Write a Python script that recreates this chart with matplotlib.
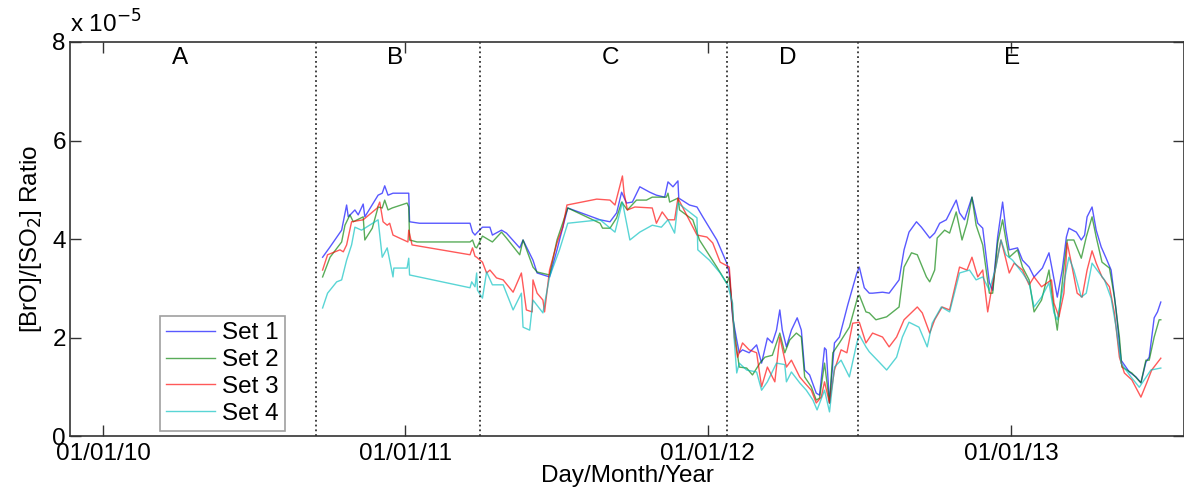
import matplotlib
matplotlib.use('Agg')
import matplotlib.pyplot as plt
import matplotlib.dates as mdates
import pandas as pd

plt.rcParams['font.family'] = ['Liberation Sans', 'DejaVu Sans']

# days since 01/01/2010, ratio in units of 1e-5
set1_days = [265, 274, 288, 294, 296, 304, 308, 314, 316, 332, 337, 340, 344, 350, 367, 369, 370, 382,
             443, 446, 449, 451, 458, 467, 470, 481, 487, 503, 507, 519, 524, 539, 548, 555, 561,
             600, 612, 620, 626, 632, 639, 648, 660, 668, 678, 682, 688, 694, 695, 708, 717, 724, 741,
             753, 756, 760, 765, 768, 772, 780, 789, 795, 802, 808, 813, 817, 820, 825, 831, 838, 843,
             847, 853, 861, 865, 871, 873, 877, 883, 889, 899, 910, 913, 919, 925, 929, 941, 949, 961,
             967, 973, 982, 988, 998, 1004, 1010, 1018, 1030, 1034, 1040, 1049, 1056, 1062, 1070, 1074,
             1080, 1086, 1090, 1094, 1104, 1110, 1118, 1124, 1134, 1142, 1146, 1152, 1158, 1163, 1166,
             1175, 1181, 1185, 1188, 1194, 1199, 1205, 1211, 1217, 1223, 1229, 1239, 1247, 1253, 1259,
             1263, 1269, 1273, 1277]
set1_vals = [3.63, 3.84, 4.18, 4.69, 4.45, 4.59, 4.49, 4.71, 4.45, 4.89, 4.93, 5.08, 4.89, 4.93, 4.93, 4.93, 4.35, 4.32,
             4.32, 4.14, 4.08, 4.12, 4.24, 4.24, 4.08, 4.18, 4.12, 3.82, 3.98, 3.57, 3.31, 3.23, 3.78, 4.24, 4.63,
             4.39, 4.35, 4.53, 4.95, 4.73, 4.75, 5.06, 4.95, 4.89, 4.85, 5.16, 5.06, 5.18, 4.83, 4.69, 4.65, 4.45, 3.98,
             3.51, 3.31, 2.42, 1.95, 1.69, 1.75, 1.69, 1.85, 1.48, 1.99, 1.89, 2.15, 2.56, 2.15, 1.81, 2.15, 2.40, 2.15,
             1.34, 1.24, 0.87, 0.83, 1.79, 1.75, 0.67, 1.89, 2.01, 2.66, 3.31, 3.43, 3.01, 2.90, 2.90, 2.92, 2.90, 3.17,
             3.78, 4.14, 4.35, 4.24, 4.02, 4.12, 4.32, 4.39, 4.79, 4.53, 4.39, 4.85, 4.32, 4.22, 3.11, 2.96,
             4.04, 4.75, 4.18, 3.78, 3.82, 3.57, 3.43, 3.23, 3.41, 3.72, 3.37, 2.82, 3.37, 4.04, 4.22,
             4.14, 3.98, 4.08, 4.45, 4.65, 4.18, 3.84, 3.61, 3.37, 2.56, 1.54, 1.30, 1.20, 1.08, 1.50,
             1.60, 2.40, 2.52, 2.72]

set2_days = [265, 274, 288, 292, 298, 302, 314, 316, 325, 332, 337, 340, 344, 349, 367, 369, 370, 379,
             443, 446, 449, 451, 458, 470, 481, 487, 503, 507, 519, 524, 539, 548, 561,
             600, 603, 612, 620, 626, 633, 644, 656, 663, 680, 682, 684, 694, 696, 712, 720, 741,
             753, 756, 762, 768, 777, 784, 793, 799, 808, 817, 823, 829, 837, 843, 847, 855, 861, 865,
             871, 877, 881, 889, 901, 911, 913, 921, 925, 933, 946, 961, 967, 976, 983, 994, 998, 1004,
             1007, 1016, 1022, 1030, 1037, 1043, 1049, 1054, 1062, 1070, 1074, 1080, 1086, 1090, 1094,
             1104, 1110, 1118, 1124, 1133, 1142, 1146, 1152, 1160, 1164, 1172, 1181, 1187, 1194, 1199,
             1206, 1215, 1221, 1227, 1230, 1242, 1253, 1259, 1263, 1269, 1275, 1277]
set2_vals = [3.23, 3.63, 3.94, 4.28, 4.49, 4.35, 4.45, 3.98, 4.22, 4.65, 4.63, 4.79, 4.59, 4.63, 4.73, 4.65, 3.98, 3.94,
             3.94, 3.98, 3.84, 3.82, 4.06, 3.94, 4.14, 4.02, 3.68, 3.98, 3.43, 3.33, 3.27, 3.98, 4.63,
             4.32, 4.22, 4.22, 4.43, 4.75, 4.59, 4.79, 4.79, 4.85, 4.85, 4.93, 4.75, 4.83, 4.59, 4.39, 3.98, 3.43,
             3.10, 3.23, 2.15, 1.40, 1.38, 1.24, 1.48, 1.60, 1.64, 2.09, 1.69, 1.95, 2.09, 2.01, 1.20, 1.00, 0.73, 0.77,
             1.48, 0.67, 1.69, 1.89, 2.21, 2.82, 2.86, 2.52, 2.50, 2.36, 2.42, 2.62, 3.43, 3.72, 3.68, 3.23, 3.13, 3.37,
             4.02, 4.18, 4.12, 4.55, 3.98, 4.32, 4.85, 4.28, 3.88, 2.90, 2.90, 3.92, 4.39, 3.98, 3.63,
             3.78, 3.43, 3.17, 2.52, 2.76, 3.37, 2.82, 2.15, 3.43, 3.98, 3.98, 3.61, 4.04, 4.45, 4.04,
             3.53, 3.41, 2.82, 2.01, 1.40, 1.28, 1.08, 1.54, 1.54, 2.01, 2.36, 2.36]

set3_days = [265, 271, 286, 290, 294, 300, 314, 331, 334, 338, 343, 346, 350, 368, 369, 373,
             443, 446, 449, 451, 458, 463, 467, 475, 483, 495, 505, 511, 518, 519, 524, 531, 533, 539,
             548, 555, 560, 596, 612, 618, 627, 629, 633, 642, 663, 668, 675, 682, 690, 694, 717, 729,
             736, 745, 756, 762, 766, 772, 780, 789, 795, 802, 811, 817, 825, 831, 841, 847, 855, 861,
             867, 871, 877, 883, 891, 898, 905, 913, 921, 929, 941, 949, 958, 967, 983, 989, 998, 1004,
             1013, 1022, 1034, 1043, 1049, 1056, 1062, 1068, 1074, 1084, 1088, 1094, 1100, 1110, 1118,
             1124, 1133, 1145, 1148, 1154, 1160, 1164, 1169, 1176, 1182, 1188, 1194, 1199, 1206, 1215,
             1221, 1227, 1233, 1242, 1253, 1260, 1266, 1277]
set3_vals = [3.37, 3.68, 3.78, 3.74, 3.88, 4.35, 4.39, 4.63, 4.75, 4.35, 4.28, 4.32, 4.08, 3.94, 4.18, 3.88,
             3.68, 3.82, 3.65, 3.63, 3.53, 3.31, 3.37, 3.21, 3.17, 2.92, 3.31, 2.56, 2.52, 3.17, 2.90, 2.76, 2.52, 3.37,
             3.92, 4.24, 4.69, 4.81, 4.79, 4.69, 5.28, 4.93, 4.59, 4.65, 4.63, 4.32, 4.55, 4.39, 4.39, 4.83, 4.08, 4.04,
             3.92, 3.53, 3.43, 2.01, 1.60, 1.89, 1.75, 1.69, 1.00, 1.40, 1.10, 2.01, 1.40, 1.54, 1.20, 1.08, 0.93, 0.67,
             0.79, 1.10, 0.67, 1.34, 1.75, 1.69, 2.29, 2.31, 1.89, 2.09, 2.01, 1.81, 2.01, 2.36, 2.62, 2.50, 2.09, 2.36,
             2.62, 2.56, 3.43, 3.37, 3.63, 3.23, 3.37, 2.52, 3.11, 3.98, 3.72, 3.31, 3.51, 3.37, 3.07,
             3.23, 3.03, 3.17, 2.70, 2.42, 2.90, 3.92, 3.51, 2.90, 2.82, 3.37, 3.76, 3.51, 3.23, 3.03,
             2.50, 1.60, 1.28, 1.14, 0.79, 1.08, 1.34, 1.58]

set4_days = [265, 271, 282, 288, 294, 300, 304, 312, 316, 332, 337, 343, 350, 351, 367, 369, 370,
             443, 445, 449, 451, 452, 458, 463, 470, 483, 495, 505, 507, 515, 519, 531, 539, 551, 561,
             600, 618, 627, 636, 648, 663, 674, 682, 690, 694, 717, 718, 732, 745, 754, 760,
             762, 765, 768, 777, 789, 795, 802, 813, 823, 825, 831, 841, 849, 857, 862, 871, 877, 883,
             891, 901, 910, 913, 921, 925, 937, 946, 958, 965, 973, 985, 995, 1001, 1012, 1022, 1034,
             1046, 1054, 1062, 1070, 1078, 1084, 1090, 1098, 1110, 1118, 1124, 1133, 1142, 1148, 1152,
             1160, 1166, 1172, 1181, 1187, 1194, 1200, 1209, 1217, 1223, 1229, 1241, 1251, 1257, 1265, 1277]
set4_vals = [2.60, 2.90, 3.13, 3.17, 3.57, 3.88, 4.24, 4.18, 4.22, 4.39, 3.63, 3.82, 3.23, 3.41, 3.41, 3.61, 3.27,
             3.01, 3.13, 3.03, 3.31, 2.96, 2.80, 3.33, 3.07, 3.07, 2.56, 2.90, 2.21, 2.15, 2.76, 2.50, 3.23, 3.78, 4.32,
             4.39, 4.14, 4.75, 3.98, 4.14, 4.28, 4.24, 4.39, 4.12, 4.73, 4.43, 3.78, 3.57, 3.31, 3.07, 2.70,
             1.95, 1.28, 1.48, 1.34, 1.30, 0.93, 1.10, 1.48, 1.45, 1.10, 1.30, 1.08, 0.93, 0.73, 0.53, 0.93, 0.49, 1.40,
             1.54, 1.20, 1.89, 2.05, 1.81, 1.71, 1.50, 1.34, 1.60, 2.01, 2.31, 2.21, 1.81, 2.29, 2.62, 2.52, 3.31,
             3.37, 3.17, 3.23, 2.96, 3.43, 3.98, 3.68, 3.57, 3.31, 3.11, 2.62, 2.82, 3.11, 2.50, 2.36,
             3.11, 3.63, 3.37, 2.82, 2.90, 3.51, 3.37, 3.17, 2.80, 2.21, 1.48, 1.20, 0.99, 1.14, 1.34, 1.38]

period_bounds = ['2010-09-15', '2011-04-01', '2012-01-24', '2012-07-01']
period_names = ['A', 'B', 'C', 'D', 'E']
period_label_days = [93, 352, 612, 826, 1097]

series = [('Set 1', set1_days, set1_vals, (0, 0, 1)),
          ('Set 2', set2_days, set2_vals, (0, 0.5, 0)),
          ('Set 3', set3_days, set3_vals, (1, 0, 0)),
          ('Set 4', set4_days, set4_vals, (0, 0.75, 0.75))]

base = pd.Timestamp('2010-01-01')
fs = 17.5

fig = plt.figure(figsize=(11.84, 4.97), dpi=100)
ax = fig.add_axes([0.0591, 0.1227, 0.9409, 0.7928])

for name, days, vals, col in series:
    dates = base + pd.to_timedelta(days, unit='D')
    ax.plot(dates, vals, color=col, lw=1.0, alpha=0.65, label=name)

for b in period_bounds:
    ax.axvline(pd.Timestamp(b), color='#333333', ls=':', lw=1.3)

for name, d in zip(period_names, period_label_days):
    ax.text(base + pd.Timedelta(days=d), 7.67, name, ha='center', va='center', fontsize=fs)

ax.set_xlim(base + pd.Timedelta(days=-40), base + pd.Timedelta(days=1305))
ax.set_ylim(0, 8)
ax.set_yticks([0, 2, 4, 6, 8])
ax.xaxis.set_major_locator(mdates.YearLocator())
ax.xaxis.set_major_formatter(mdates.DateFormatter('%d/%m/%y'))

ax.tick_params(direction='in', length=8, width=1, labelsize=fs, top=True, right=True, color='#333333')
ax.tick_params(axis='x', pad=5)
ax.tick_params(axis='y', pad=3)
for s in ax.spines.values():
    s.set_color('#333333')
    s.set_linewidth(1.2)

ax.set_xlabel('Day/Month/Year', fontsize=fs, labelpad=0)
ax.set_ylabel('[BrO]/[SO$_2$] Ratio', fontsize=fs, labelpad=6)
ax.text(0.0, 1.01, 'x 10$^{-5}$', transform=ax.transAxes, fontsize=fs, ha='left', va='bottom')

leg = ax.legend(loc='lower left', bbox_to_anchor=(0.081, 0.013), borderaxespad=0, fontsize=fs,
                fancybox=False, edgecolor='#888888', handlelength=2.0, labelspacing=0.2,
                handletextpad=0.3, borderpad=0.25)
leg.get_frame().set_linewidth(1.2)

plt.savefig('out.png', dpi=100)
